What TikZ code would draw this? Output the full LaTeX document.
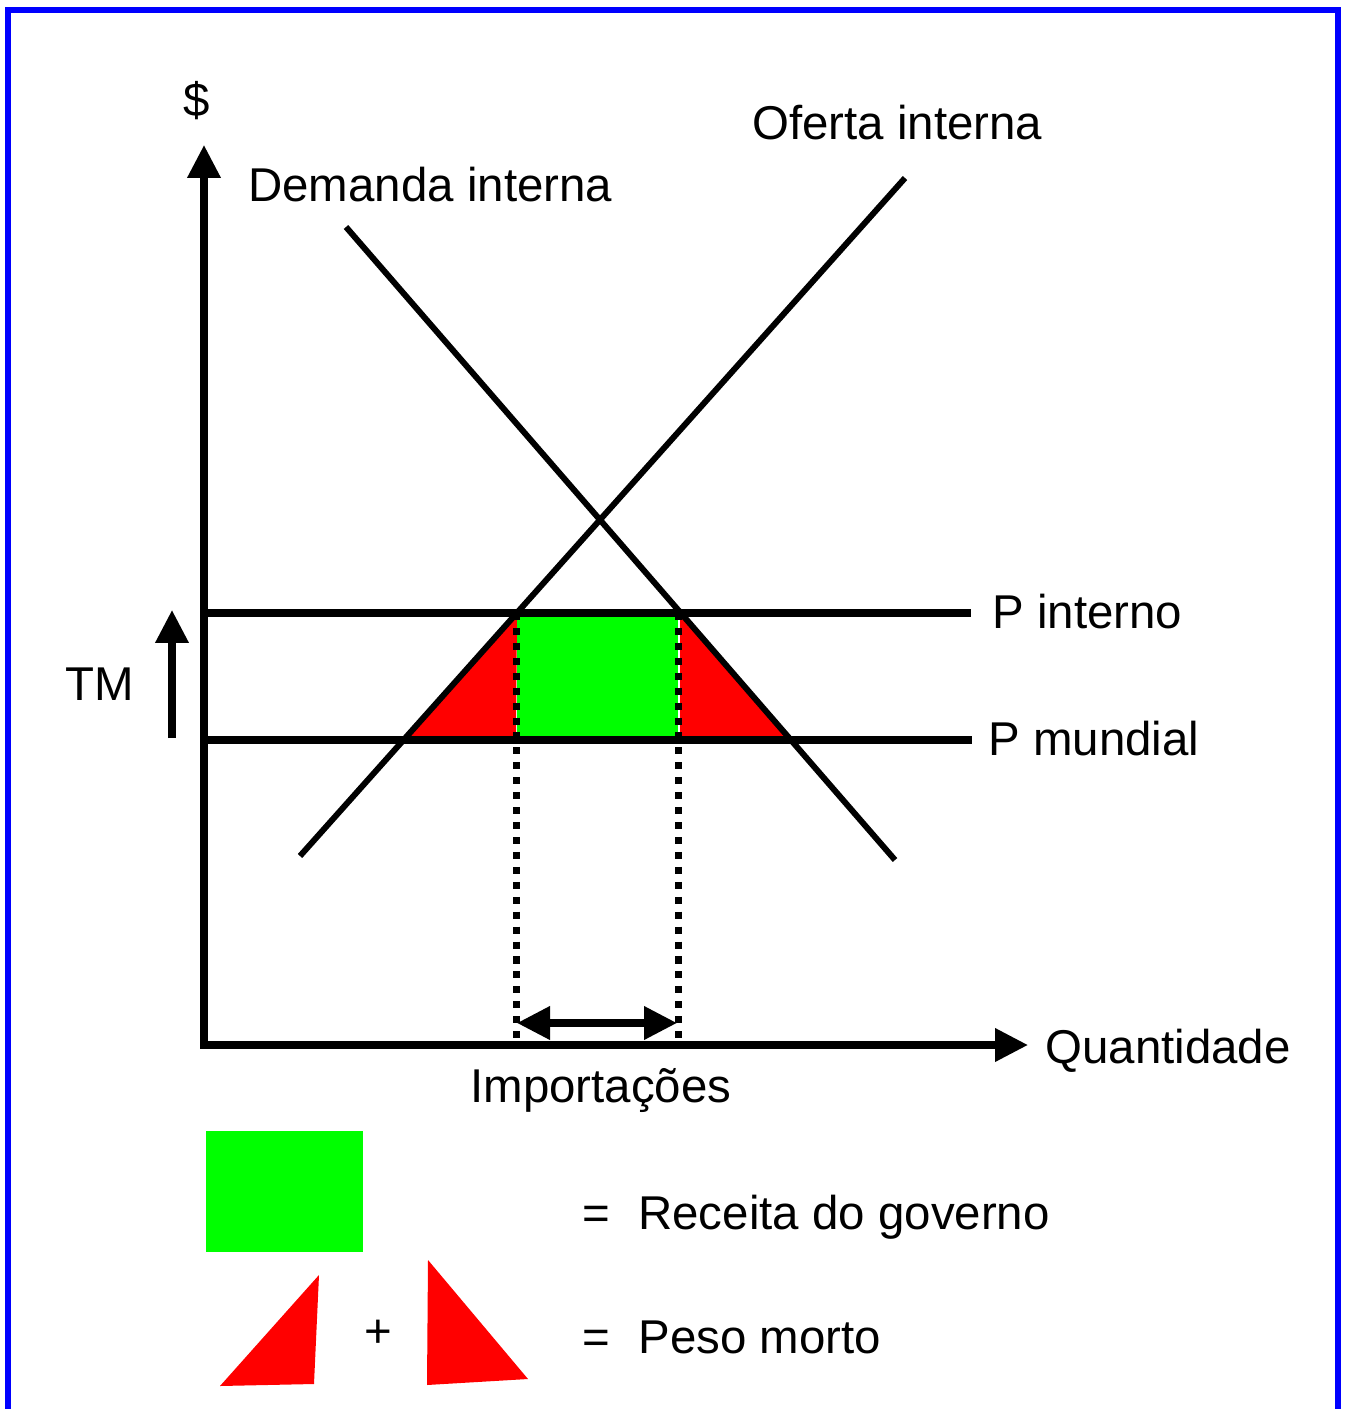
\documentclass[tikz,border=0pt]{standalone}
\usepackage{fontspec}
\setmainfont{Liberation Sans}
\usetikzlibrary{arrows.meta}
\tikzset{
  lbl/.style={inner sep=0pt, font=\fontsize{27}{32}\selectfont},
  curve/.style={line width=3.4pt},
  axis/.style={line width=4pt},
  guide/.style={line width=3.6pt, dash pattern=on 4pt off 4.5pt},
  tip/.style={-{Triangle[length=0.66cm,width=0.64cm]}},
  tips/.style={{Triangle[length=0.66cm,width=0.64cm]}-{Triangle[length=0.66cm,width=0.64cm]}},
}
\begin{document}
\begin{tikzpicture}[x=0.02cm, y=-0.02cm]
\useasboundingbox (0,0) rectangle (1346,1409);
\draw[blue, line width=3.4pt] (8,1415) -- (8,10) -- (1338,10) -- (1338,1415);
\coordinate (org) at (204,1045);
\coordinate (ytop) at (204,145);
\coordinate (xend) at (1028,1045);
\coordinate (d1) at (346,227);
\coordinate (d2) at (895,860);
\coordinate (s1) at (300,856);
\coordinate (s2) at (905,178);
\coordinate (pi0) at (204,613);
\coordinate (pi1) at (971,613);
\coordinate (pm0) at (204,740);
\coordinate (pm1) at (972,740);
\coordinate (sI) at (517,613);
\coordinate (dI) at (680,613);
\coordinate (sW) at (404,740);
\coordinate (dW) at (790,740);
\coordinate (q1) at (516.5,613);
\coordinate (q1b) at (516.5,1040);
\coordinate (q2) at (678.5,613);
\coordinate (q2b) at (678.5,1040);
\coordinate (imp0) at (517,1023);
\coordinate (imp1) at (677,1023);
\coordinate (tm0) at (172,738);
\coordinate (tm1) at (172,610);
\fill[green] (517,613) rectangle (678,740);
\fill[red] (sW) -- (sI) -- (516,740) -- cycle;
\fill[red] (dI) -- (680,740) -- (dW) -- cycle;
\draw[axis, tips] (ytop) -- (org) -- (xend);
\draw[curve] (d1) -- (d2);
\draw[curve] (s1) -- (s2);
\draw[axis] (pi0) -- (pi1);
\draw[axis] (pm0) -- (pm1);
\draw[guide] (q1) -- (q1b);
\draw[guide] (q2) -- (q2b);
\draw[axis, tips] (imp0) -- (imp1);
\draw[axis, tip] (tm0) -- (tm1);
\node[lbl] (dollar) at (197,101) {\$};
\node[lbl, anchor=base west] (dem) at (248,202) {Demanda interna};
\node[lbl, anchor=base west] (ofe) at (752,140) {Oferta interna};
\node[lbl, anchor=base west] (pint) at (992,628) {P interno};
\node[lbl, anchor=base west] (pmun) at (988,755) {P mundial};
\node[lbl, anchor=base west] (tm) at (65,700) {TM};
\node[lbl, anchor=base west] (quant) at (1045,1063) {Quantidade};
\node[lbl, anchor=base west] (imp) at (470,1102) {Importações};
\fill[green] (206,1131) rectangle (363,1252);
\fill[red] (220,1386) -- (319,1275) -- (314,1384) -- cycle;
\fill[red] (428,1260) -- (427,1385) -- (528,1379) -- cycle;
\node[lbl] (plus) at (378,1334) {+};
\node[lbl, anchor=base west] (eqrec) at (582,1229) {=};
\node[lbl, anchor=base west] (rec) at (638,1229) {Receita do governo};
\node[lbl, anchor=base west] (eqpeso) at (582,1353) {=};
\node[lbl, anchor=base west] (peso) at (638,1353) {Peso morto};
\end{tikzpicture}
\end{document}
